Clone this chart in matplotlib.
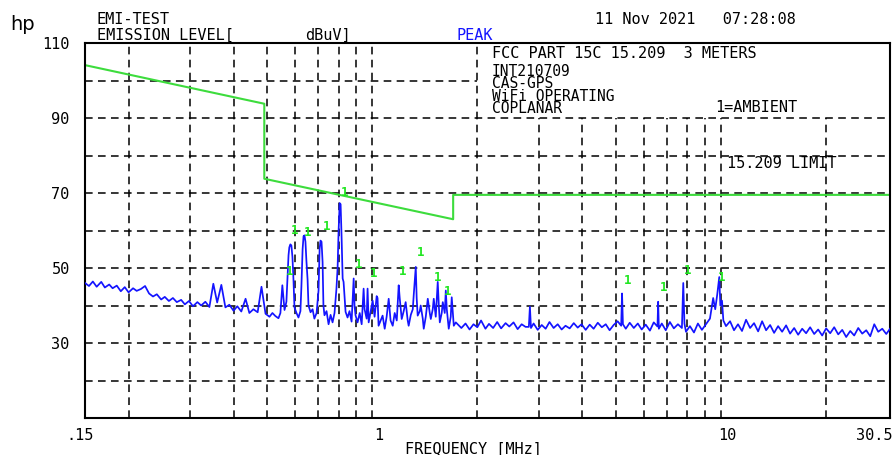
import matplotlib
matplotlib.use("Agg")
import matplotlib.pyplot as plt
from matplotlib.ticker import NullLocator
from matplotlib.transforms import ScaledTranslation

# measured trace, 0.15 - 0.5 MHz
freq_low = [0.150, 0.154, 0.158, 0.162, 0.167, 0.171, 0.176, 0.180, 0.185, 0.190,
            0.195, 0.200, 0.206, 0.211, 0.217, 0.223, 0.229, 0.235, 0.241, 0.248,
            0.254, 0.261, 0.268, 0.275, 0.283, 0.290, 0.298, 0.306, 0.315, 0.323,
            0.332, 0.341, 0.350, 0.359, 0.369, 0.379, 0.389, 0.400, 0.410, 0.421,
            0.433, 0.444, 0.456, 0.469, 0.481, 0.494]
level_low = [46.0, 45.2, 46.4, 45.0, 46.3, 44.8, 45.6, 44.6, 45.3, 43.8,
             44.9, 43.5, 44.6, 43.9, 44.4, 45.2, 43.2, 42.4, 43.0, 41.6,
             42.3, 41.2, 42.0, 40.9, 41.5, 40.3, 41.2, 39.8, 40.9, 40.0,
             41.0, 39.6, 45.8, 40.8, 45.5, 39.5, 40.2, 38.6, 39.8, 38.4,
             41.8, 38.0, 39.0, 38.2, 45.0, 37.8]

# 0.5 - 1.75 MHz, the busy part
freq_mid = [0.507, 0.517, 0.527, 0.538, 0.545, 0.552, 0.560, 0.567, 0.571, 0.575,
            0.578, 0.582, 0.586, 0.590, 0.594, 0.598, 0.606, 0.614, 0.622, 0.626,
            0.631, 0.635, 0.639, 0.643, 0.647, 0.652, 0.656, 0.665, 0.674, 0.682,
            0.692, 0.701, 0.706, 0.710, 0.715, 0.720, 0.724, 0.729, 0.739, 0.749,
            0.759, 0.769, 0.779, 0.789, 0.795, 0.800, 0.806, 0.811, 0.816, 0.822,
            0.827, 0.833, 0.838, 0.849, 0.860, 0.872, 0.884, 0.889, 0.895, 0.907,
            0.920, 0.932, 0.944, 0.950, 0.963, 0.969, 0.976, 0.989, 1.002, 1.015,
            1.029, 1.035, 1.042, 1.056, 1.070, 1.085, 1.099, 1.114, 1.128, 1.144,
            1.159, 1.175, 1.190, 1.198, 1.214, 1.230, 1.246, 1.263, 1.271, 1.289,
            1.306, 1.314, 1.332, 1.340, 1.349, 1.368, 1.376, 1.395, 1.404, 1.423,
            1.442, 1.461, 1.471, 1.490, 1.500, 1.520, 1.540, 1.551, 1.561, 1.581,
            1.592, 1.613, 1.624, 1.635, 1.656, 1.678, 1.689, 1.701, 1.712, 1.735]
level_mid = [37.0, 38.0, 37.2, 36.6, 38.0, 45.4, 38.8, 41.0, 47.2, 53.4,
             55.5, 56.3, 56.0, 53.0, 47.0, 39.5, 38.0, 36.8, 38.5, 45.0,
             55.0, 58.5, 58.7, 57.0, 52.0, 47.0, 40.0, 38.2, 39.0, 36.5,
             38.0, 44.0, 55.0, 57.3, 57.0, 51.6, 40.0, 37.4, 38.5, 35.0,
             37.5, 35.5, 38.0, 44.5, 50.0, 59.6, 67.3, 67.0, 58.7, 47.2,
             46.3, 42.0, 38.3, 36.8, 38.5, 35.7, 47.2, 40.0, 37.4, 35.5,
             38.0, 35.0, 44.5, 39.0, 36.5, 44.5, 35.5, 38.5, 41.3, 37.0,
             42.5, 42.0, 34.6, 36.0, 37.3, 33.8, 37.0, 41.8, 36.0, 34.6,
             38.0, 36.0, 45.4, 42.0, 36.4, 38.5, 40.9, 36.0, 34.6, 37.5,
             39.0, 42.7, 50.3, 42.0, 37.3, 38.5, 40.0, 36.5, 33.8, 37.0,
             41.8, 38.0, 36.4, 39.0, 41.8, 37.0, 46.3, 40.0, 35.5, 38.0,
             40.9, 38.0, 44.0, 39.0, 33.8, 37.0, 42.2, 38.0, 34.6, 35.5]

# 1.8 - 30.5 MHz
freq_high = [1.80, 1.85, 1.90, 1.95, 2.00, 2.05, 2.11, 2.16, 2.22, 2.28,
             2.34, 2.41, 2.47, 2.54, 2.61, 2.68, 2.75, 2.81, 2.83, 2.85,
             2.90, 2.98, 3.06, 3.14, 3.22, 3.31, 3.40, 3.49, 3.58, 3.68,
             3.78, 3.88, 3.98, 4.09, 4.20, 4.31, 4.43, 4.55, 4.67, 4.79,
             4.92, 5.05, 5.17, 5.20, 5.23, 5.33, 5.47, 5.62, 5.77, 5.92,
             6.08, 6.25, 6.41, 6.57, 6.60, 6.63, 6.76, 6.94, 7.13, 7.32,
             7.52, 7.72, 7.79, 7.85, 7.93, 8.14, 8.36, 8.58, 8.81, 9.05,
             9.29, 9.49, 9.62, 9.75, 9.88, 9.95, 10.06, 10.15, 10.33, 10.61,
             10.89, 11.18, 11.48, 11.79, 12.11, 12.43, 12.77, 13.11, 13.46, 13.82,
             14.19, 14.57, 14.96, 15.36, 15.77, 16.20, 16.63, 17.08, 17.53, 18.00,
             18.49, 18.98, 19.49, 20.01, 20.55, 21.10, 21.67, 22.25, 22.84, 23.46,
             24.08, 24.73, 25.39, 26.07, 26.77, 27.49, 28.22, 28.98, 29.76, 30.50]
level_high = [34.0, 35.2, 33.6, 35.0, 34.2, 36.0, 33.8, 35.1, 34.0, 35.6,
              33.9, 35.3, 34.4, 35.5, 33.7, 35.0, 34.3, 34.3, 39.7, 34.0,
              35.2, 33.5, 34.8, 33.8, 35.6, 34.0, 35.0, 33.6, 34.6, 33.9,
              35.3, 34.1, 35.0, 33.5, 34.9, 33.8, 35.4, 34.2, 35.0, 33.4,
              34.8, 35.8, 34.6, 43.2, 35.0, 33.8, 35.4, 34.0, 35.2, 33.6,
              34.9, 33.3, 35.5, 34.4, 41.0, 33.8, 35.2, 33.4, 35.6, 33.9,
              35.0, 34.0, 46.0, 35.2, 33.0, 34.5, 32.8, 35.2, 33.5, 35.0,
              36.5, 42.0, 39.0, 43.0, 47.6, 40.0, 41.3, 36.0, 34.5, 35.8,
              33.4, 35.0, 33.2, 36.2, 34.0, 35.3, 33.1, 35.8, 33.4, 34.8,
              32.7, 34.5, 33.0, 34.7, 32.5, 34.0, 32.2, 33.8, 32.6, 34.2,
              32.4, 33.6, 32.0, 33.9, 32.6, 34.2, 32.3, 33.5, 31.6, 33.2,
              32.0, 34.0, 32.5, 33.4, 31.8, 35.0, 33.0, 33.8, 32.4, 33.8]

# FCC 15.209 limit at 3 m
limit_freq = [0.15, 0.49, 0.49, 1.705, 1.705, 30.5]
limit_level = [104.1, 93.8, 73.8, 63.0, 69.5, 69.5]

# "1" = ambient markers
marker_freq = [0.578, 0.598, 0.652, 0.739, 0.833, 0.913, 1.008, 1.222, 1.376,
               1.540, 1.646, 5.38, 6.83, 8.00, 10.02]
marker_level = [49.0, 59.9, 59.6, 61.2, 70.2, 50.8, 48.5, 49.0, 54.0,
                47.4, 43.7, 46.6, 44.7, 49.3, 47.4]

vgrid_freq = [0.2, 0.3, 0.4, 0.5, 0.6, 0.7, 0.8, 0.9, 1, 2, 3, 4, 5, 6, 7, 8, 9, 10, 20]
hgrid_level = [20, 30, 40, 50, 60, 70, 80, 90, 100]
xtick_vals = [0.15, 1, 10, 30.5]
xtick_text = [".15", "1", "10", "30.5"]
ytick_vals = [30, 50, 70, 90, 110]

W, H = 892, 455
mono = "DejaVu Sans Mono"
blue = "#1414ff"
green = "#3ddc3d"

fig = plt.figure(figsize=(W / 100, H / 100), dpi=100)
fig.patch.set_facecolor("white")
ax = fig.add_axes([85 / W, 37 / H, (890 - 85) / W, (418 - 43) / H])
ax.set_xscale("log")
ax.set_xlim(0.15, 30.5)
ax.set_ylim(10, 110)

dash = (0, (5, 3.5))
for f in vgrid_freq:
    top = 90 if f > 2 else 110
    ax.vlines(f, 10, top, colors="black", linestyles=dash, lw=1.1, zorder=1)
for lv in hgrid_level:
    right = 2 if lv > 90 else 30.5
    ax.hlines(lv, 0.15, right, colors="black", linestyles=dash, lw=1.1, zorder=1)

ax.plot(limit_freq, limit_level, color=green, lw=1.5, zorder=2)
ax.plot(freq_low + freq_mid + freq_high, level_low + level_mid + level_high,
        color=blue, lw=1.25, zorder=3)
for f, lv in zip(marker_freq, marker_level):
    ax.text(f, lv, "1", color="#22e622", fontsize=9, fontweight="bold",
            family=mono, ha="center", va="center", zorder=4)

ax.xaxis.set_minor_locator(NullLocator())
ax.yaxis.set_minor_locator(NullLocator())
ax.set_xticks(xtick_vals)
ax.set_xticklabels(xtick_text, family=mono, fontsize=11)
ax.set_yticks(ytick_vals)
ax.set_yticklabels([str(v) for v in ytick_vals], family=mono, fontsize=11)
ax.tick_params(length=0, pad=7)
ax.tick_params(axis="y", pad=11)
for lbl, dx in zip(ax.get_xticklabels(), [-5, 6, 6, -16]):
    lbl.set_transform(lbl.get_transform() + ScaledTranslation(dx / 100, 0, fig.dpi_scale_trans))
for sp in ax.spines.values():
    sp.set_linewidth(1.5)
    sp.set_color("black")


def label(s, x, y, **kw):
    opts = dict(family=mono, fontsize=11, ha="left", va="center")
    opts.update(kw)
    fig.text(x / W, 1 - y / H, s, **opts)


label("hp", 10, 30, family="DejaVu Sans", fontsize=14, va="baseline")
label("EMI-TEST", 97, 20)
label("EMISSION LEVEL[", 97, 35)
label("dBuV]", 305, 35)
label("PEAK", 457, 35, color=blue)
label("11 Nov 2021   07:28:08", 595, 19)
label("FCC PART 15C 15.209  3 METERS", 492, 54)
label("INT210709\nCAS-GPS\nWiFi OPERATING\nCOPLANAR", 492, 64,
      fontsize=10.5, va="top", linespacing=0.78)
label("1=AMBIENT", 715, 107)
label("15.209 LIMIT", 727, 164)
label("FREQUENCY [MHz]", 473, 449, ha="center")

fig.savefig("out.png", dpi=100)
